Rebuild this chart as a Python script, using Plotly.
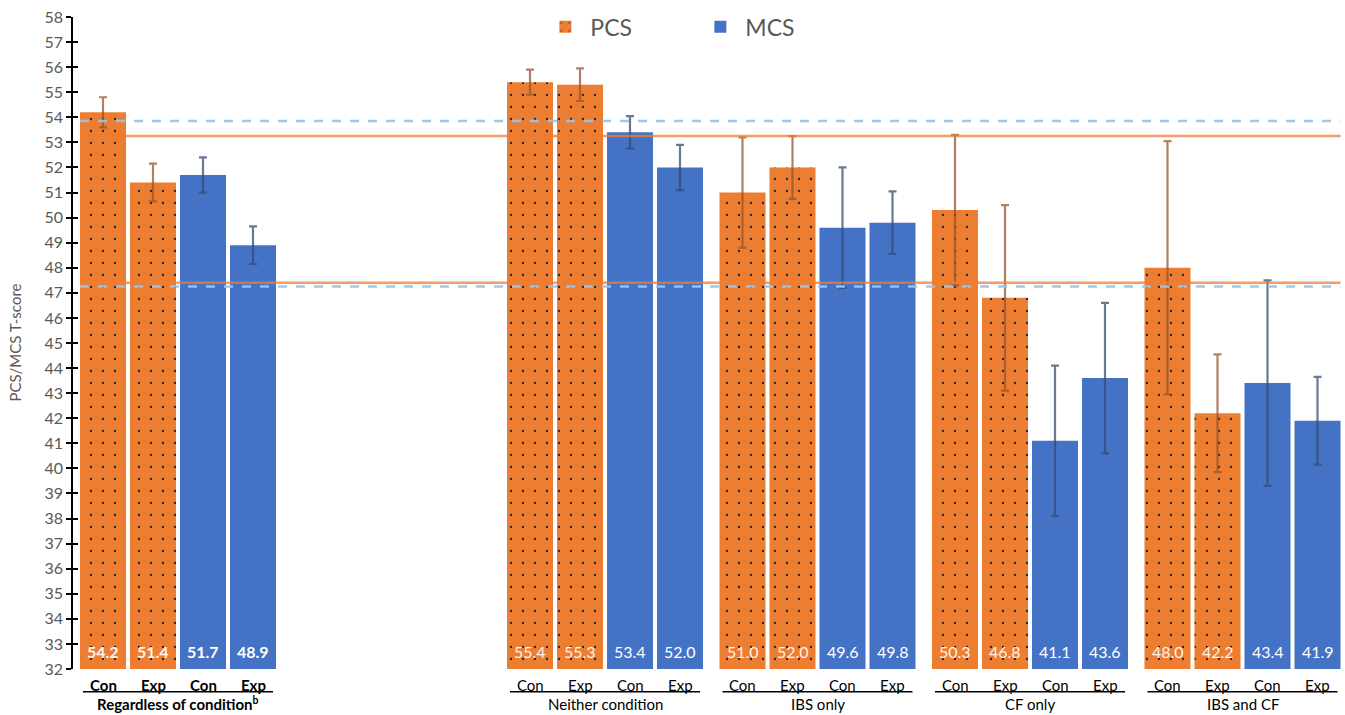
import plotly.graph_objects as go

# ---------------- data ----------------
groups = ["Regardless of condition", "Neither condition", "IBS only", "CF only", "IBS and CF"]
sub_labels = ["Con", "Exp", "Con", "Exp"]

pcs_con = [54.2, 55.4, 51.0, 50.3, 48.0]
pcs_exp = [51.4, 55.3, 52.0, 46.8, 42.2]
mcs_con = [51.7, 53.4, 49.6, 41.1, 43.4]
mcs_exp = [48.9, 52.0, 49.8, 43.6, 41.9]

pcs_con_err = [0.6, 0.5, 2.2, 3.0, 5.05]
pcs_exp_err = [0.75, 0.65, 1.25, 3.7, 2.35]
mcs_con_err = [0.7, 0.65, 2.4, 3.0, 4.1]
mcs_exp_err = [0.75, 0.9, 1.25, 3.0, 1.75]

pcs_ref = [53.25, 47.4]     # solid orange reference lines
mcs_ref = [53.85, 47.25]    # dashed blue reference lines

# ---------------- layout helpers ----------------
ORANGE = "#ED7D31"
BLUE = "#4472C4"
GRAY = "#595959"
FONT = "Lato"

first_gap = 8.54
group_step = 4.25
group_start = [0.0] + [first_gap + group_step * k for k in range(len(groups) - 1)]

x_pcs, y_pcs, e_pcs = [], [], []
x_mcs, y_mcs, e_mcs = [], [], []
all_x = []
for g, s in enumerate(group_start):
    x_pcs += [s, s + 1]
    y_pcs += [pcs_con[g], pcs_exp[g]]
    e_pcs += [pcs_con_err[g], pcs_exp_err[g]]
    x_mcs += [s + 2, s + 3]
    y_mcs += [mcs_con[g], mcs_exp[g]]
    e_mcs += [mcs_con_err[g], mcs_exp_err[g]]
    all_x += [s, s + 1, s + 2, s + 3]

BW = 0.92

fig = go.Figure()
fig.add_trace(go.Bar(
    x=x_pcs, y=y_pcs, width=BW, name="PCS",
    marker=dict(color=ORANGE, line=dict(width=0),
                pattern=dict(shape=".", size=12, solidity=0.028, fgcolor="#222222",
                             bgcolor=ORANGE, fillmode="replace")),
    error_y=dict(type="data", array=e_pcs, color="rgba(150,85,45,0.75)", thickness=2.2, width=4),
))
fig.add_trace(go.Bar(
    x=x_mcs, y=y_mcs, width=BW, name="MCS",
    marker=dict(color=BLUE, line=dict(width=0)),
    error_y=dict(type="data", array=e_mcs, color="rgba(55,75,115,0.75)", thickness=2.2, width=4),
))
# invisible copy on the overlay axis so that its inside ticks are drawn (cross ticks)
fig.add_trace(go.Bar(
    x=x_mcs, y=y_mcs, width=BW, yaxis="y2", showlegend=False, hoverinfo="skip",
    marker=dict(color="rgba(0,0,0,0)", line=dict(width=0)),
))

shapes = []
x_left = all_x[0] - 0.46
x_right = all_x[-1] + 0.46
for v in pcs_ref:
    shapes.append(dict(type="line", xref="x", yref="y", x0=x_left, x1=x_right, y0=v, y1=v,
                       line=dict(color="rgba(237,125,49,0.75)", width=2.5), layer="above"))
for v in mcs_ref:
    shapes.append(dict(type="line", xref="x", yref="y", x0=x_left, x1=x_right, y0=v, y1=v,
                       line=dict(color="rgba(157,195,230,0.95)", width=2.5, dash="dash"), layer="above"))

annotations = []
for g, s in enumerate(group_start):
    vals = [pcs_con[g], pcs_exp[g], mcs_con[g], mcs_exp[g]]
    for i, v in enumerate(vals):
        txt = f"{v:.1f}"
        if g == 0:
            txt = f"<b>{txt}</b>"
        annotations.append(dict(x=s + i, y=32, xref="x", yref="y", text=txt, showarrow=False,
                                yanchor="bottom", yshift=6,
                                font=dict(family=FONT, size=16, color="#FFF4EC" if i < 2 else "white")))
        lab = sub_labels[i]
        if g == 0:
            lab = f"<b>{lab}</b>"
        annotations.append(dict(x=s + i, y=-0.025, xref="x", yref="paper", text=lab, showarrow=False,
                                yanchor="middle", font=dict(family=FONT, size=15, color="black")))
    gl = groups[g]
    if g == 0:
        gl = f"<b>{gl}<sup>b</sup></b>"
    annotations.append(dict(x=s + 1.5, y=-0.053, xref="x", yref="paper", text=gl, showarrow=False,
                            yanchor="middle", font=dict(family=FONT, size=15, color="black")))
    shapes.append(dict(type="line", xref="x", yref="paper", x0=s - 0.4, x1=s + 3.4,
                       y0=-0.035, y1=-0.035, line=dict(color="black", width=1.5)))

annotations.append(dict(x=-0.046, y=0.5, xref="paper", yref="paper", text="PCS/MCS T-score",
                        showarrow=False, textangle=-90, xanchor="center", yanchor="middle",
                        font=dict(family=FONT, size=15, color=GRAY)))

fig.update_layout(
    width=1345, height=715,
    margin=dict(l=73, r=2, t=17, b=46, autoexpand=False),
    plot_bgcolor="white", paper_bgcolor="white",
    barmode="overlay",
    showlegend=True,
    legend=dict(orientation="h", x=0.368, xanchor="left", y=0.985, yanchor="middle",
                font=dict(family=FONT, size=23, color=GRAY), itemwidth=40,
                entrywidth=100, entrywidthmode="pixels",
                bgcolor="rgba(0,0,0,0)", traceorder="normal"),
    xaxis=dict(range=[-0.6, 24.8], showticklabels=False, showgrid=False, zeroline=False,
               showline=False, ticks="", automargin=False),
    yaxis=dict(range=[32, 58], dtick=1, tick0=32, showgrid=False, zeroline=False,
               showline=True, linecolor="black", linewidth=1.5,
               ticks="outside", ticklen=5, tickwidth=1.5, tickcolor="black",
               tickfont=dict(family=FONT, size=16, color=GRAY), automargin=False),
    yaxis2=dict(range=[32, 58], dtick=1, tick0=32, overlaying="y", side="left", anchor="x",
                showgrid=False, zeroline=False, showline=False, showticklabels=False,
                ticks="inside", ticklen=5, tickwidth=1.5, tickcolor="black", automargin=False),
    shapes=shapes,
    annotations=annotations,
    font=dict(family=FONT),
)

fig.write_html("out.html", config={"displayModeBar": False},
               post_script="document.body.style.margin='0';document.body.style.overflow='hidden';")
